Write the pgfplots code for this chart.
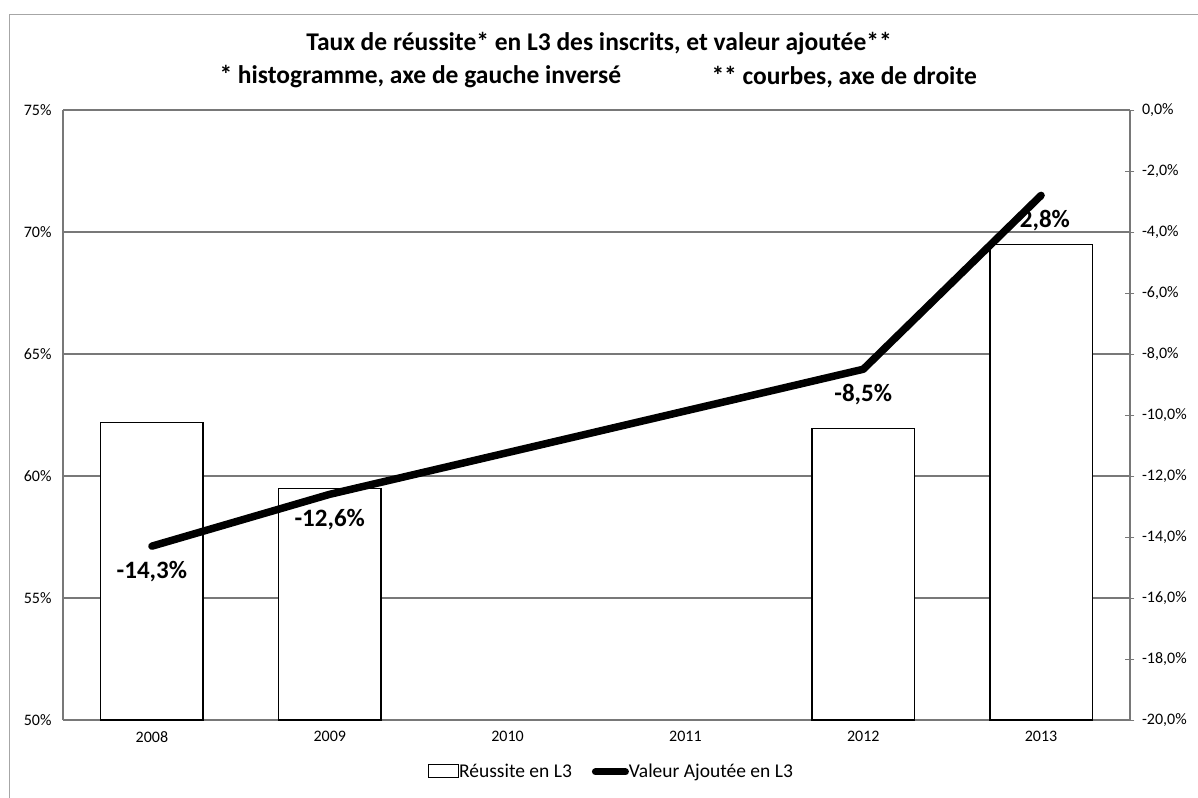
\documentclass[border=0pt]{standalone}
\usepackage{pgfplots}
\pgfplotsset{compat=1.18}
\usepackage{fontspec}
\setmainfont{Carlito}
\definecolor{gridgray}{RGB}{120,120,120}
\begin{document}
\begin{tikzpicture}
\path[use as bounding box] (0,0) rectangle (1198bp,-798bp);
\draw[gray!70,line width=1bp] (9bp,-798bp) -- (9bp,-14bp) -- (1198bp,-14bp);
\node[font=\fontsize{25.5bp}{28bp}\selectfont\bfseries] at (599bp,-44bp) {Taux de réussite* en L3 des inscrits, et valeur ajoutée**};
\node[font=\fontsize{25.5bp}{28bp}\selectfont\bfseries,anchor=west] at (216bp,-77bp) {* histogramme, axe de gauche inversé};
\node[font=\fontsize{25.5bp}{28bp}\selectfont\bfseries,anchor=west] at (708bp,-77bp) {** courbes, axe de droite};
\begin{axis}[
  at={(63bp,-720bp)}, anchor=south west,
  scale only axis, width=1067bp, height=610bp,
  xmin=-0.5, xmax=5.5, ymin=50, ymax=75,
  axis x line*=bottom, axis y line*=left,
  axis line style={gridgray,line width=1.2bp},
  xtick={0,1,2,3,4,5}, xticklabels={2008,2009,2010,2011,2012,2013},
  ytick={50,55,60,65,70,75},
  yticklabel={\pgfmathprintnumber{\tick}\%},
  major tick length=0pt,
  ymajorgrids, grid style={gridgray,line width=1.2bp},
  tick label style={font=\fontsize{16bp}{18bp}\selectfont},
  xticklabel style={yshift=-8bp},
  yticklabel style={xshift=-8bp},
  /pgf/number format/assume math mode=true,
  clip=true,
]
\addplot[ybar, bar width=0.575, draw=black, line width=1.3bp, fill=white] coordinates {
(0,62.2) (1,59.5) (4,61.95) (5,69.5)
};
\end{axis}
\begin{axis}[
  at={(63bp,-720bp)}, anchor=south west,
  scale only axis, width=1067bp, height=610bp,
  xmin=-0.5, xmax=5.5, ymin=-20, ymax=0,
  axis x line=none, axis y line*=right,
  axis line style={gridgray,line width=1.2bp},
  ytick={-20,-18,...,0},
  yticklabel={\pgfmathprintnumber[fixed,fixed zerofill,precision=1,use comma]{\tick}\%},
  major tick length=9bp, tick align=center, tick style={gridgray,line width=1bp},
  tick label style={font=\fontsize{16bp}{18bp}\selectfont},
  yticklabel style={xshift=4bp},
  /pgf/number format/assume math mode=true,
  clip=false,
  legend style={at={(0.514,-0.085)}, anchor=center, draw=none, fill=none,
    font=\fontsize{19.5bp}{22bp}\selectfont, legend columns=2,
    /tikz/every even column/.append style={column sep=18bp},
    /tikz/every odd column/.append style={column sep=-2bp}},
  legend cell align=left,
]
\addlegendimage{legend image code/.code={\draw[black,line width=1.2bp,fill=white] (0bp,-6bp) rectangle (30bp,7bp);}}
\addlegendentry{Réussite en L3}
\addplot[black, line width=7.5bp, line cap=round, line join=round,
  legend image code/.code={\draw[black,line width=7bp,line cap=round] (2bp,0bp) -- (32bp,0bp);},
  nodes near coords, point meta=explicit symbolic,
  every node near coord/.append style={font=\fontsize{25bp}{27bp}\selectfont\bfseries, anchor=north, yshift=-8bp, black}]
coordinates {
(0,-14.3) [-14,3\%]
(1,-12.6) [-12,6\%]
(4,-8.5) [-8,5\%]
(5,-2.8) [-2,8\%]
};
\addlegendentry{Valeur Ajoutée en L3}
\end{axis}
\end{tikzpicture}
\end{document}
